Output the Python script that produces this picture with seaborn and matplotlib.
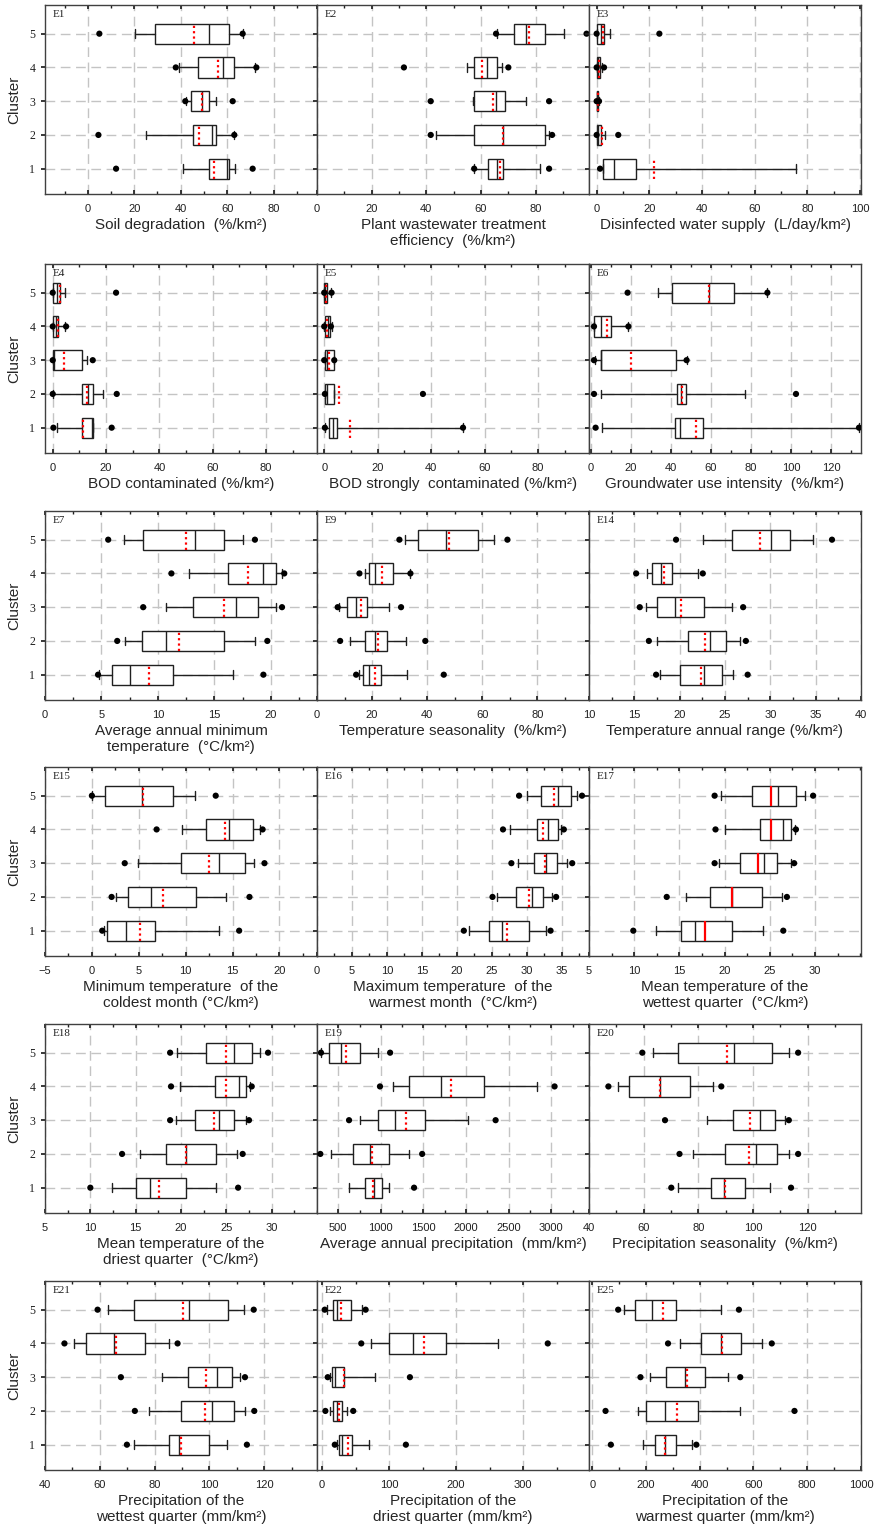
import numpy as np
import pandas as pd
import seaborn as sns
import matplotlib.pyplot as plt
from matplotlib.ticker import MultipleLocator, AutoMinorLocator

# Clusters on the y axis
clusters = [1, 2, 3, 4, 5]

# One row per cluster (1..5):
# [dot low, whisker low, Q1, median, mean, Q3, whisker high, dot high]
E1 = [[12.2, 41.2, 52.0, 60.0, 54.2, 60.6, 63.2, 71.0],
      [4.6, 25.0, 45.5, 53.7, 48.0, 55.3, 62.8, 63.1],
      [42.0, 42.2, 44.5, 49.4, 49.4, 52.3, 55.3, 62.4],
      [37.9, 39.4, 47.3, 58.2, 55.9, 62.8, 72.1, 72.6],
      [5.0, 20.4, 29.0, 52.0, 45.8, 60.6, 66.7, 66.7]]
E2 = [[57.5, 57.5, 62.7, 65.9, 67.0, 68.2, 81.5, 84.9],
      [41.6, 43.7, 57.5, 68.0, 68.0, 83.3, 84.9, 86.0],
      [41.6, 56.9, 57.5, 65.5, 64.3, 68.8, 76.6, 84.9],
      [31.8, 54.8, 57.5, 62.1, 60.4, 65.9, 67.7, 70.0],
      [65.5, 65.9, 72.0, 76.6, 77.4, 83.3, 90.4, 98.6]]
E3 = [[1.3, 2.5, 2.5, 6.7, 21.9, 14.8, 75.6, None],
      [0.0, 0.1, 0.2, 0.6, 1.9, 1.6, 3.2, 8.2],
      [0.0, 0.05, 0.1, 0.25, 0.4, 0.6, 0.9, 0.9],
      [0.0, 0.1, 0.2, 0.6, 0.8, 1.3, 1.9, 2.8],
      [0.0, 0.1, 0.25, 1.6, 2.5, 2.9, 5.0, 23.8]]
E4 = [[0.25, 1.5, 11.0, 14.75, 11.5, 15.0, 15.0, 22.1],
      [0.0, 0.0, 11.0, 13.1, 12.75, 15.0, 18.75, 24.0],
      [0.0, 0.1, 0.25, 0.5, 4.4, 11.0, 12.75, 15.0],
      [0.0, 0.1, 0.25, 1.25, 1.9, 2.1, 4.75, 5.0],
      [0.0, 0.1, 0.25, 1.5, 2.75, 2.9, 4.75, 23.75]]
E5 = [[0.25, 0.25, 1.9, 3.1, 9.6, 4.75, 51.9, 51.9],
      [0.25, 0.3, 0.4, 1.2, 5.4, 3.5, 3.5, 36.9],
      [0.0, 0.2, 0.4, 1.2, 1.6, 3.5, 3.75, 3.75],
      [0.0, 0.1, 0.25, 1.25, 1.2, 2.1, 2.75, 2.5],
      [0.0, 0.05, 0.1, 0.4, 0.6, 1.2, 2.5, 2.75]]
E6 = [[2.3, 5.3, 42.0, 44.5, 52.3, 56.2, 134.0, 134.0],
      [1.5, 4.8, 42.8, 45.0, 45.3, 47.3, 77.0, 102.5],
      [1.5, 2.0, 5.0, 5.0, 20.0, 42.5, 47.8, 47.8],
      [1.5, 1.5, 1.5, 5.0, 7.8, 10.0, 18.7, 18.7],
      [18.3, 33.3, 40.3, 59.0, 59.2, 71.7, 88.2, 88.2]]
E7 = [[4.7, 4.8, 5.9, 7.5, 9.2, 11.3, 16.7, 19.35],
      [6.4, 7.1, 8.6, 10.7, 11.9, 15.9, 18.6, 19.7],
      [8.7, 10.7, 13.1, 16.9, 15.9, 18.9, 20.5, 21.0],
      [11.2, 12.8, 16.2, 19.35, 18.0, 20.5, 21.0, 21.2],
      [5.6, 7.0, 8.7, 13.3, 12.5, 15.9, 17.5, 18.6]]
E9 = [[14.2, 15.2, 16.6, 18.8, 21.1, 23.3, 32.6, 46.0],
      [8.4, 12.0, 17.5, 21.2, 22.1, 25.5, 32.4, 39.3],
      [7.5, 8.1, 10.9, 14.2, 16.0, 18.2, 26.3, 30.5],
      [15.4, 17.5, 19.0, 21.2, 23.6, 27.5, 33.6, 33.9],
      [29.9, 31.8, 36.6, 46.9, 47.9, 58.4, 64.2, 69.1]]
E14 = [[17.4, 17.8, 20.0, 22.7, 22.4, 24.65, 25.9, 27.5],
       [16.6, 17.5, 20.9, 23.3, 22.8, 25.1, 26.7, 27.3],
       [15.6, 16.3, 17.5, 19.5, 20.2, 22.7, 25.75, 27.0],
       [15.2, 16.4, 16.9, 17.9, 18.3, 19.2, 22.0, 22.55],
       [19.6, 22.6, 25.75, 30.1, 28.9, 32.2, 34.7, 36.8]]
E15 = [[1.1, 1.3, 1.6, 3.6, 5.1, 6.7, 13.5, 15.7],
       [2.1, 2.6, 3.85, 6.3, 7.6, 11.1, 14.3, 16.8],
       [3.5, 4.9, 9.5, 13.5, 12.5, 16.3, 17.3, 18.4],
       [6.9, 9.6, 12.2, 14.6, 14.2, 17.2, 17.9, 18.2],
       [0.0, 0.0, 1.35, 5.3, 5.5, 8.65, 10.95, 13.2]]
E16 = [[21.0, 21.8, 24.6, 26.4, 27.2, 30.3, 32.7, 33.4],
       [25.1, 25.8, 28.5, 30.7, 30.3, 32.3, 33.6, 34.2],
       [27.8, 28.8, 31.0, 32.7, 32.6, 34.3, 35.7, 36.5],
       [26.6, 27.6, 31.4, 33.0, 32.3, 34.5, 34.9, 35.3],
       [28.9, 30.1, 32.1, 34.5, 33.9, 36.3, 37.2, 37.9]]
E17 = [[9.9, 12.4, 15.2, 16.7, 17.8, 20.8, 24.2, 26.5],
       [13.6, 15.7, 18.4, 20.8, 20.8, 24.1, 26.4, 26.9],
       [18.9, 19.4, 21.7, 24.4, 23.7, 25.8, 27.4, 27.7],
       [19.0, 20.0, 23.9, 26.5, 25.1, 27.3, 27.8, 27.9],
       [18.9, 19.6, 23.0, 25.9, 25.1, 27.9, 28.9, 29.8]]
E18 = [[10.0, 12.35, 15.0, 16.6, 17.6, 20.6, 23.9, 26.3],
       [13.5, 15.5, 18.3, 20.6, 20.6, 23.9, 26.2, 26.8],
       [18.8, 19.4, 21.5, 24.2, 23.6, 25.8, 27.2, 27.5],
       [18.9, 19.9, 23.8, 26.4, 25.0, 27.2, 27.6, 27.8],
       [18.8, 19.6, 22.8, 25.8, 25.0, 27.8, 28.7, 29.6]]
E19 = [[None, 627, 817, 924, 903, 1014, 1101, 1390],
       [290, 421, 674, 876, 895, 1093, 1327, 1485],
       [627, 753, 963, 1168, 1291, 1517, 2022, 2347],
       [990, 1141, 1327, 1702, 1825, 2209, 2834, 3039],
       [298, 298, 397, 528, 588, 753, 963, 1109]]
E20 = [[70.1, 72.5, 84.8, 89.3, 89.7, 96.9, 106.1, 113.9],
       [73.1, 78.0, 89.9, 101.1, 98.5, 108.8, 113.1, 116.5],
       [67.8, 83.0, 92.6, 102.7, 98.8, 108.2, 111.6, 113.1],
       [47.1, 50.7, 54.6, 65.8, 66.0, 76.8, 85.3, 88.4],
       [59.5, 63.4, 72.5, 93.0, 90.5, 107.0, 113.0, 116.5]]
E21 = [[69.9, 72.6, 85.1, 89.0, 89.6, 100.0, 106.3, 113.7],
       [72.8, 77.8, 89.6, 100.8, 98.4, 108.9, 113.0, 116.4],
       [67.7, 82.7, 92.3, 102.7, 98.8, 108.1, 111.2, 113.0],
       [47.1, 50.7, 55.0, 65.1, 66.0, 76.5, 85.4, 88.4],
       [59.2, 63.1, 72.6, 92.7, 90.2, 106.9, 112.7, 116.2]]
E22 = [[19, 22.5, 25, 30, 39, 44, 70, 125],
       [5, 12.5, 16.5, 22.5, 26, 30, 37.5, 46.5],
       [8.5, 11.5, 15, 20, 32.5, 32.5, 79, 131],
       [58.5, 72.5, 100, 135, 152.5, 185, 262.5, 336.5],
       [4, 7.5, 16.5, 22.5, 29, 42.5, 60, 65]]
E25 = [[69.3, 189.4, 235, 270, 270, 310.6, 371.3, 387.4],
       [49.5, 170.8, 199.3, 270, 316.8, 393.6, 548.3, 752.5],
       [179.5, 216.6, 276, 346.5, 352.7, 418.3, 505, 550.7],
       [282, 328, 406, 480, 482.7, 552, 631, 668],
       [96.5, 117.6, 158.4, 224, 263.6, 310.6, 480, 545.8]]

# x axis labels
labels = {
    "E1": "Soil degradation  (%/km²)",
    "E2": "Plant wastewater treatment\nefficiency  (%/km²)",
    "E3": "Disinfected water supply  (L/day/km²)",
    "E4": "BOD contaminated (%/km²)",
    "E5": "BOD strongly  contaminated (%/km²)",
    "E6": "Groundwater use intensity  (%/km²)",
    "E7": "Average annual minimum\ntemperature  (°C/km²)",
    "E9": "Temperature seasonality  (%/km²)",
    "E14": "Temperature annual range (%/km²)",
    "E15": "Minimum temperature  of the\ncoldest month (°C/km²)",
    "E16": "Maximum temperature  of the\nwarmest month  (°C/km²)",
    "E17": "Mean temperature of the\nwettest quarter  (°C/km²)",
    "E18": "Mean temperature of the\ndriest quarter  (°C/km²)",
    "E19": "Average annual precipitation  (mm/km²)",
    "E20": "Precipitation seasonality  (%/km²)",
    "E21": "Precipitation of the\nwettest quarter (mm/km²)",
    "E22": "Precipitation of the\ndriest quarter (mm/km²)",
    "E25": "Precipitation of the\nwarmest quarter (mm/km²)",
}

# panel name, data, x limits, first tick, last tick, tick step
panels = [
    ("E1", E1, (-18.4, 98.7), 0, 80, 20),
    ("E2", E2, (0, 99.5), 0, 80, 20),
    ("E3", E3, (-2.9, 100.3), 0, 100, 20),
    ("E4", E4, (-2.9, 99.1), 0, 80, 20),
    ("E5", E5, (-2.7, 99), 0, 80, 20),
    ("E6", E6, (-1, 135), 0, 120, 20),
    ("E7", E7, (0, 24.1), 0, 20, 5),
    ("E9", E9, (0, 98.7), 0, 80, 20),
    ("E14", E14, (10, 40), 10, 40, 5),
    ("E15", E15, (-5, 24), -5, 20, 5),
    ("E16", E16, (0, 38.9), 0, 35, 5),
    ("E17", E17, (5, 35.1), 5, 30, 5),
    ("E18", E18, (5, 35), 5, 30, 5),
    ("E19", E19, (251, 3443), 500, 3000, 500),
    ("E20", E20, (40, 139.5), 40, 120, 20),
    ("E21", E21, (40, 139.3), 40, 120, 20),
    ("E22", E22, (-7.5, 398), 0, 300, 100),
    ("E25", E25, (-12, 1000), 0, 1000, 200),
]

sns.set_theme(style="white")
plt.rcParams['font.family'] = ['Liberation Sans', 'DejaVu Sans']

W, H = 875, 1532
fig = plt.figure(figsize=(W / 100, H / 100), dpi=100)

col_x = [45, 317, 589]
row_top = [5, 264, 511, 767, 1024, 1281]
pw, ph = 272, 189

for i, (name, data, xlim, t0, t1, step) in enumerate(panels):
    r, c = divmod(i, 3)
    ax = fig.add_axes([col_x[c] / W, 1 - (row_top[r] + ph) / H, pw / W, ph / H])

    stats = [dict(whislo=d[1], q1=d[2], med=d[3], mean=d[4], q3=d[5],
                  whishi=d[6], fliers=[]) for d in data]
    mean_style = '-' if name == "E17" else (0, (1, 1.4))
    ax.bxp(stats, positions=clusters, widths=0.6, orientation='horizontal',
           showmeans=True, meanline=True, showfliers=False, patch_artist=True,
           boxprops=dict(facecolor='white', edgecolor='#202020', linewidth=1),
           medianprops=dict(color='#202020', linewidth=1),
           meanprops=dict(color='red', linestyle=mean_style, linewidth=1.6),
           whiskerprops=dict(color='#202020', linewidth=1),
           capprops=dict(color='#202020', linewidth=1),
           capwidths=0.25, manage_ticks=False, zorder=3)

    # 5th / 95th percentile points
    pts = [(d[0], k) for d, k in zip(data, clusters) if d[0] is not None]
    pts += [(d[7], k) for d, k in zip(data, clusters) if d[7] is not None]
    df = pd.DataFrame(pts, columns=['value', 'cluster'])
    sns.scatterplot(data=df, x='value', y='cluster', ax=ax, color='black',
                    s=20, edgecolor='none', legend=False, zorder=4)

    ax.set_xlim(*xlim)
    ax.set_ylim(0.25, 5.85)
    ax.set_xticks(np.arange(t0, t1 + step / 2, step))
    ax.xaxis.set_minor_locator(AutoMinorLocator(2))
    ax.set_yticks(clusters)

    ax.set_axisbelow(True)
    ax.grid(True, which='major', linestyle=(0, (7, 4)), color='#c4c4c4', linewidth=1)

    ax.tick_params(axis='x', which='major', direction='in', length=3, top=True,
                   bottom=True, pad=7, labelsize=8, colors='#202020')
    ax.tick_params(axis='x', which='minor', direction='in', length=2, top=True,
                   bottom=True, colors='#202020')
    ax.tick_params(axis='y', direction='out', length=3, left=True, pad=4,
                   colors='#202020')
    for s in ax.spines.values():
        s.set_color('#404040')
        s.set_linewidth(1)

    if c == 0:
        for t in ax.get_yticklabels():
            t.set_fontfamily('Liberation Serif')
            t.set_fontsize(8.5)
        ax.set_ylabel("Cluster", fontsize=11, labelpad=6)
    else:
        ax.set_yticklabels([])
        ax.set_ylabel("")

    ax.set_xlabel(labels[name], fontsize=11, labelpad=3, linespacing=1.15)
    ax.text(0.03, 0.975, name, transform=ax.transAxes, ha='left', va='top',
            fontsize=8, family='Liberation Serif', color='#202020')

fig.savefig("out.png", dpi=100)
